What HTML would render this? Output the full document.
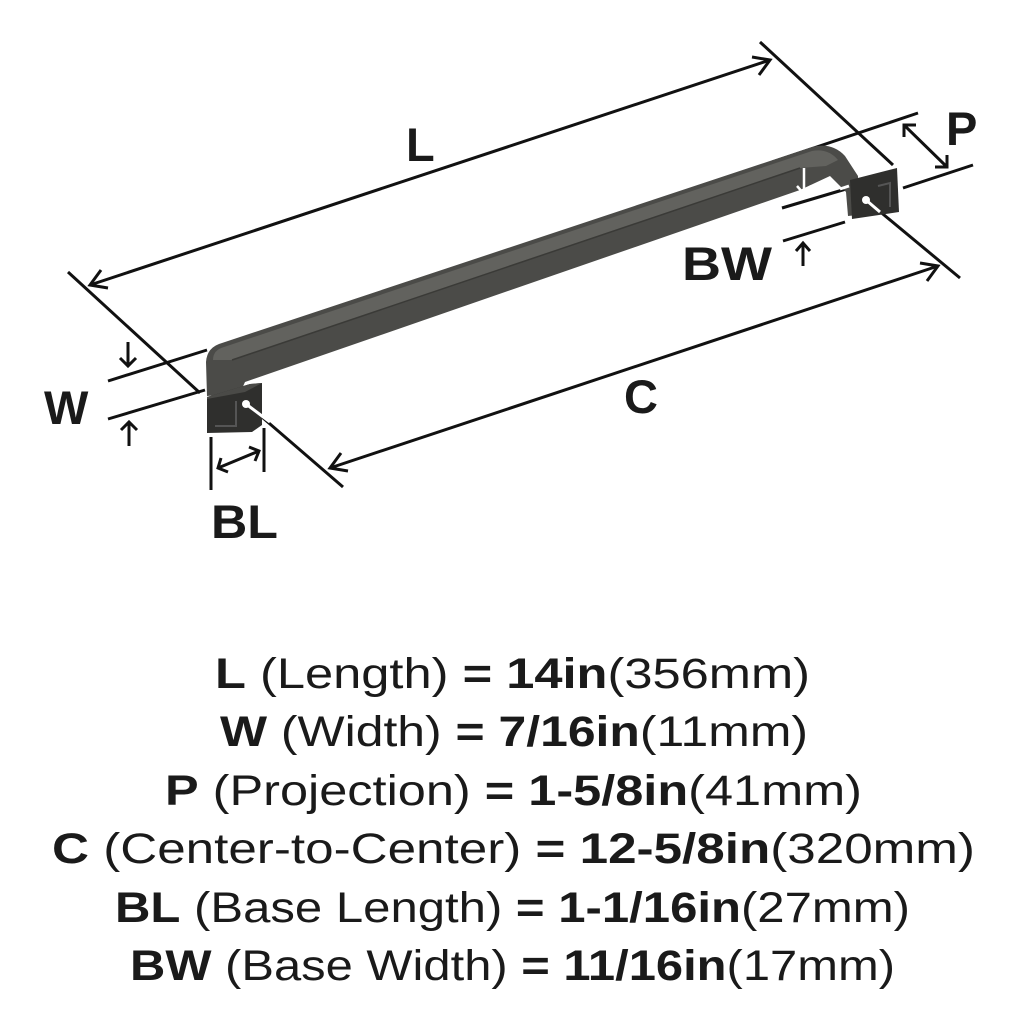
<!DOCTYPE html>
<html><head><meta charset="utf-8"><style>
html,body{margin:0;padding:0;background:#fff;}
svg{display:block;}
text{font-family:"Liberation Sans",sans-serif;fill:#1a1a1a;}
</style></head><body>
<svg width="1024" height="1024" viewBox="0 0 1024 1024" xmlns="http://www.w3.org/2000/svg">
<g stroke="#111" stroke-width="3" fill="none" stroke-linecap="butt">
  <line x1="90" y1="285" x2="770" y2="60"/>
  <polyline points="101,270 90,285 108,288"/>
  <polyline points="752,57 770,60 759,75"/>
  <line x1="68" y1="272" x2="200" y2="393"/>
  <line x1="760" y1="42" x2="893" y2="165"/>
  <line x1="330" y1="468" x2="938" y2="266"/>
  <polyline points="341,453 330,468 348,471"/>
  <polyline points="920,263 938,266 927,281"/>
  <line x1="248" y1="405" x2="343" y2="487"/>
  <line x1="866" y1="200" x2="960" y2="278"/>
  <line x1="108" y1="381" x2="207" y2="350"/>
  <line x1="108" y1="419" x2="205" y2="390"/>
  <line x1="128" y1="342" x2="128" y2="366"/>
  <polyline points="120,358 128,366 136,358"/>
  <line x1="129" y1="422" x2="129" y2="446"/>
  <polyline points="121,430 129,422 137,430"/>
  <line x1="211" y1="437" x2="211" y2="490"/>
  <line x1="264" y1="428" x2="264" y2="472"/>
  <line x1="218" y1="468" x2="259" y2="451"/>
  <polyline points="221,458 218,468 228,472"/>
  <polyline points="249,447 259,451 255,461"/>
  <line x1="772" y1="162" x2="918" y2="113"/>
  <line x1="903" y1="188" x2="973" y2="165"/>
  <line x1="904" y1="125" x2="947" y2="167"/>
  <polyline points="904,137 904,125 916,125"/>
  <polyline points="935,167 947,167 947,155"/>
  <line x1="782" y1="208" x2="846" y2="189"/>
  <line x1="783" y1="241" x2="845" y2="222"/>
  <line x1="803" y1="243" x2="803" y2="266"/>
  <polyline points="796,251 803,243 810,251"/>
</g>
<path d="M206,362 Q207,347 222,343 L812,147 Q832,142 845,156 L858,176 L858,215 L848,216 L846,192 L830,176 L800,190 L245,382 L240,393 L207,396 Z" fill="#4b4b48"/>
<path d="M213,360 Q213,350 224,347 L812,151 Q828,148 838,160 L826,166 L800,168 L232,360 Z" fill="#62625e"/>
<line x1="232" y1="360" x2="800" y2="168" stroke="#3a3a37" stroke-width="1.5"/>
<path d="M207,397 L250,384 L262,383 L262,425 L252,432 L207,433 Z" fill="#2f2f2d"/>
<path d="M207,397 L250,384 L262,383 L245,392 L207,399 Z" fill="#4a4a47"/>
<polyline points="215,426 236,426 236,401" fill="none" stroke="#555" stroke-width="2"/>
<circle cx="246" cy="404" r="4" fill="#fff"/>
<line x1="246" y1="404" x2="270" y2="422" stroke="#fff" stroke-width="3"/>
<path d="M850,180 L897,168 L899,212 L852,219 Z" fill="#2f2f2d"/>
<polyline points="878,186 890,183 890,207" fill="none" stroke="#555" stroke-width="2"/>
<circle cx="866" cy="200" r="4" fill="#fff"/>
<line x1="866" y1="200" x2="880" y2="212" stroke="#fff" stroke-width="3"/>
<g stroke="#fff" stroke-width="2.5" fill="none">
  <line x1="804" y1="168" x2="804" y2="194"/>
  <polyline points="797,186 804,194 811,186"/>
</g>
<line x1="840" y1="189" x2="849" y2="186" stroke="#fff" stroke-width="3"/>
<g font-weight="bold" font-size="47">
  <text x="406" y="161">L</text>
  <text x="44" y="424">W</text>
  <text x="946" y="145">P</text>
  <text x="682" y="280" textLength="90" lengthAdjust="spacingAndGlyphs">BW</text>
  <text x="624" y="413">C</text>
  <text x="211" y="538" textLength="67" lengthAdjust="spacingAndGlyphs">BL</text>
</g>
<g font-size="43">
  <text x="215" y="688" textLength="595" lengthAdjust="spacingAndGlyphs"><tspan font-weight="bold">L</tspan> (Length) <tspan font-weight="bold">= 14in</tspan>(356mm)</text>
  <text x="220" y="746" textLength="588" lengthAdjust="spacingAndGlyphs"><tspan font-weight="bold">W</tspan> (Width) <tspan font-weight="bold">= 7/16in</tspan>(11mm)</text>
  <text x="165" y="805" textLength="697" lengthAdjust="spacingAndGlyphs"><tspan font-weight="bold">P</tspan> (Projection) <tspan font-weight="bold">= 1-5/8in</tspan>(41mm)</text>
  <text x="52" y="863" textLength="923" lengthAdjust="spacingAndGlyphs"><tspan font-weight="bold">C</tspan> (Center-to-Center) <tspan font-weight="bold">= 12-5/8in</tspan>(320mm)</text>
  <text x="115" y="922" textLength="795" lengthAdjust="spacingAndGlyphs"><tspan font-weight="bold">BL</tspan> (Base Length) <tspan font-weight="bold">= 1-1/16in</tspan>(27mm)</text>
  <text x="130" y="980" textLength="765" lengthAdjust="spacingAndGlyphs"><tspan font-weight="bold">BW</tspan> (Base Width) <tspan font-weight="bold">= 11/16in</tspan>(17mm)</text>
</g>
</svg>
</body></html>
